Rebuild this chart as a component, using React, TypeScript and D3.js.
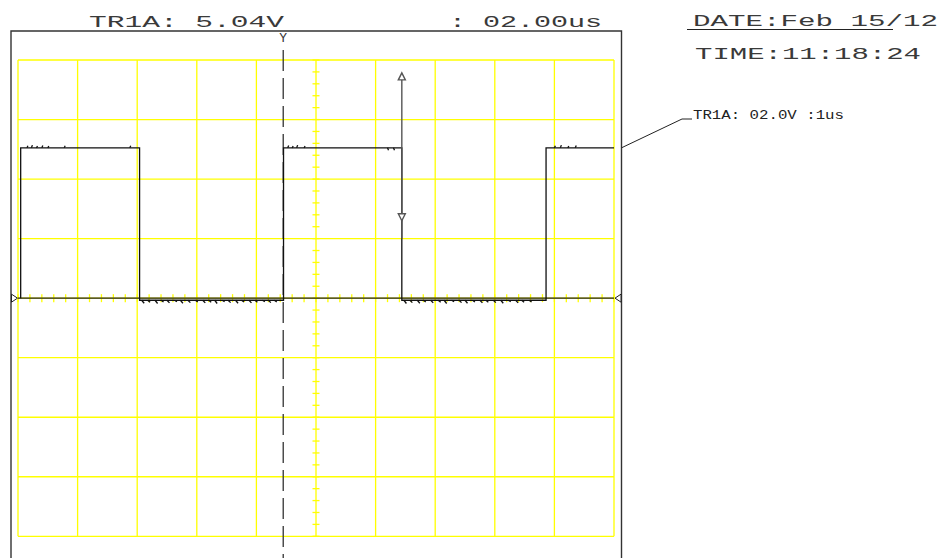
import * as d3 from 'd3';

// screen: 10 divisions of 2us across, 8 divisions of 2V down, ground in the middle
const timeDomain = [0, 20];
const voltDomain = [-8, 8];
const timeDivs = d3.range(0, 20.001, 2);
const voltDivs = d3.range(-8, 8.001, 2);
const minorTime = d3.range(0, 20.001, 0.4);
const minorVolt = d3.range(-8, 8.001, 0.4);

// trace corners (us, V)
const traceTimes = [0.09, 0.09, 4.08, 4.08, 8.91, 8.91, 12.88, 12.88, 17.72, 17.72, 20];
const traceVolts = [0, 5.05, 5.05, -0.07, -0.07, 5.05, 5.05, -0.07, -0.07, 5.05, 5.05];

// little blips riding on the flat parts
const lowGlitchT = [4.15, 4.35, 4.6, 4.8, 5.0, 5.25, 5.45, 5.7, 5.95, 6.2, 6.4, 6.6, 6.85, 7.05, 7.3, 7.5, 7.75, 7.95, 8.2, 8.4, 8.6,
  12.95, 13.15, 13.4, 13.6, 13.85, 14.1, 14.3, 14.55, 14.8, 15.0, 15.25, 15.5, 15.7, 15.95, 16.2, 16.45, 16.7, 16.9, 17.15];
const lowGlitchV = [-0.17, -0.14, -0.18, -0.13, -0.16, -0.12, -0.17, -0.15, -0.13, -0.16, -0.14, -0.18, -0.12, -0.15, -0.17, -0.13, -0.16, -0.14, -0.12, -0.15, -0.13,
  -0.18, -0.15, -0.17, -0.13, -0.16, -0.14, -0.18, -0.12, -0.15, -0.17, -0.13, -0.16, -0.14, -0.15, -0.17, -0.12, -0.16, -0.14, -0.13];
const highGlitchT = [0.3, 0.45, 0.62, 0.8, 1.0, 1.55, 3.75, 9.05, 9.2, 9.35, 9.6, 12.4, 12.6, 18.0, 18.2, 18.45, 18.7];
const highGlitchV = [5.12, 5.14, 5.11, 5.13, 5.11, 5.12, 5.12, 5.13, 5.11, 5.14, 5.11, 4.97, 4.97, 5.12, 5.14, 5.11, 5.13];

// cursor and trigger
const cursorT = 12.88;
const cursorTopV = 7.5;
const cursorArrowV = 2.6;
const cursorEndV = 2.0;
const triggerT = 8.9;

const headerLeft = 'TR1A: 5.04V';
const headerRight = ': 02.00us';
const dateLabel = 'DATE:Feb 15/12';
const timeLabel = 'TIME:11:18:24';
const traceLabel = 'TR1A: 02.0V :1us';

const YELLOW = '#ffff00';
const INK = '#222';

export default function App() {
  const width = 945;
  const height = 558;

  const x = d3.scaleLinear().domain(timeDomain).range([18, 614]);
  const y = d3.scaleLinear().domain(voltDomain).range([536.3, 60]);

  const line = d3
    .line<number>()
    .x((d) => x(traceTimes[d]))
    .y((d) => y(traceVolts[d]));
  const tracePath = line(d3.range(traceTimes.length));

  const x0 = x(0);
  const y0 = y(0);
  const frameRight = 621.5;

  const bigFont = { fontFamily: '"Liberation Mono", "DejaVu Sans Mono", monospace', fontSize: 16, fill: '#3a3a3a' };

  return (
    <svg
      width={width}
      height={height}
      style={{ position: 'fixed', left: 0, top: 0, background: '#fff' }}
    >
      {/* outer frame */}
      <path d={`M11,${height + 2}V31H${frameRight}V${height + 2}`} fill="none" stroke="#333" strokeWidth={1.4} />

      {/* yellow graticule */}
      <g stroke={YELLOW} strokeWidth={1.3}>
        {timeDivs.map((t) => (
          <line key={'v' + t} x1={x(t)} x2={x(t)} y1={y(8)} y2={y(-8)} />
        ))}
        {voltDivs.map((v) => (
          <line key={'h' + v} x1={x(0)} x2={x(20)} y1={y(v)} y2={y(v)} />
        ))}
        {minorVolt.map((v) => (
          <line key={'mv' + v} x1={x(10) - 3.5} x2={x(10) + 3.5} y1={y(v)} y2={y(v)} />
        ))}
        {minorTime.map((t) => (
          <line key={'mt' + t} x1={x(t)} x2={x(t)} y1={y0 - 4} y2={y0 + 4} />
        ))}
      </g>

      {/* ground reference */}
      <line x1={x0} x2={x(20)} y1={y0} y2={y0} stroke={INK} strokeWidth={1.2} />
      <path d={`M11.5,${y0 - 4}L17.5,${y0}L11.5,${y0 + 4}Z`} fill="#fff" stroke={INK} strokeWidth={1} />
      <path d={`M${frameRight - 0.5},${y0 - 4}L${frameRight - 6.5},${y0}L${frameRight - 0.5},${y0 + 4}Z`} fill="#fff" stroke={INK} strokeWidth={1} />

      {/* trigger marker */}
      <line x1={x(triggerT)} x2={x(triggerT)} y1={50} y2={height + 2} stroke="#333" strokeWidth={1.3} strokeDasharray="21 7" />
      <text x={x(triggerT)} y={42} textAnchor="middle" fontFamily='"Liberation Mono", monospace' fontSize={13} fill="#333">
        Y
      </text>

      {/* trace */}
      <path d={tracePath ?? ''} fill="none" stroke="#111" strokeWidth={1.3} />
      <g stroke="#111" strokeWidth={1.3}>
        {lowGlitchT.map((t, i) => (
          <line key={'lg' + i} x1={x(t)} x2={x(t) + 2.5} y1={y(-0.07)} y2={y(lowGlitchV[i])} />
        ))}
        {highGlitchT.map((t, i) => (
          <line key={'hg' + i} x1={x(t)} x2={x(t) + 1} y1={y(5.05)} y2={y(highGlitchV[i])} />
        ))}
      </g>

      {/* cursor */}
      <g stroke="#555" strokeWidth={1.4} fill="#fff">
        <line x1={x(cursorT)} x2={x(cursorT)} y1={y(cursorTopV)} y2={y(cursorEndV)} />
        <path d={`M${x(cursorT)},${y(cursorTopV) - 2}l-3.5,7h7Z`} />
        <path d={`M${x(cursorT)},${y(cursorArrowV)}l-3.5,-7h7Z`} />
      </g>

      {/* header texts */}
      <text x={89} y={27} textLength={195} lengthAdjust="spacingAndGlyphs" {...bigFont}>
        {headerLeft}
      </text>
      <text x={449} y={27} textLength={153} lengthAdjust="spacingAndGlyphs" {...bigFont}>
        {headerRight}
      </text>
      <text x={693} y={26} textLength={245} lengthAdjust="spacingAndGlyphs" {...bigFont}>
        {dateLabel}
      </text>
      <line x1={687} x2={893} y1={29.5} y2={29.5} stroke={INK} strokeWidth={1} />
      <text x={695} y={59} textLength={226} lengthAdjust="spacingAndGlyphs" {...bigFont}>
        {timeLabel}
      </text>

      {/* trace label with leader */}
      <path d={`M${frameRight},${y(5.05)}L682,119H692`} fill="none" stroke={INK} strokeWidth={1} />
      <text
        x={693}
        y={119}
        textLength={151}
        lengthAdjust="spacingAndGlyphs"
        fontFamily='"Liberation Mono", "DejaVu Sans Mono", monospace'
        fontSize={13}
        fill={INK}
      >
        {traceLabel}
      </text>
    </svg>
  );
}
